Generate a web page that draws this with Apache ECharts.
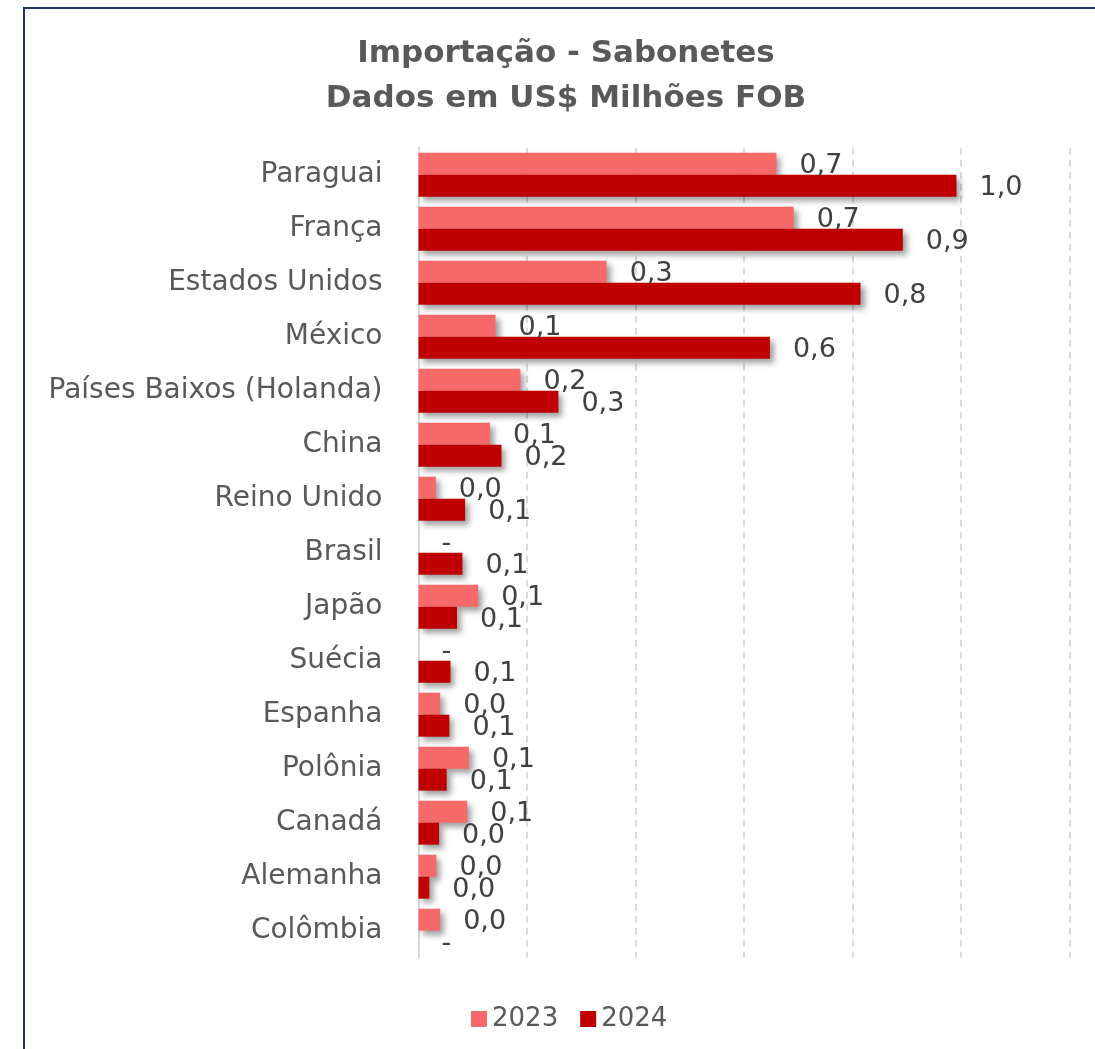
<!DOCTYPE html>
<html>
<head>
<meta charset="utf-8">
<script src="https://cdn.jsdelivr.net/npm/echarts@6/dist/echarts.min.js"></script>
<style>
	html, body { margin: 0; padding: 0; background: #fff; }
	#frame {
		position: absolute; left: 23px; top: 7px; width: 1072px; height: 1042px;
		border-top: 2px solid #22386a; border-left: 2px solid #22386a;
	}
	#chart { position: absolute; left: 0; top: 0; width: 1095px; height: 1049px; }
</style>
</head>
<body>
<div id="frame"></div>
<div id="chart"></div>
<script type="text/javascript">
// paises (de cima para baixo)
var paises = ['Paraguai', 'França', 'Estados Unidos', 'México', 'Países Baixos (Holanda)', 'China',
	'Reino Unido', 'Brasil', 'Japão', 'Suécia', 'Espanha', 'Polônia', 'Canadá', 'Alemanha', 'Colômbia'];
// US$ milhões FOB
var valores2023 = [0.660, 0.692, 0.347, 0.142, 0.188, 0.132, 0.032, 0, 0.110, 0, 0.040, 0.093, 0.090, 0.033, 0.040];
var valores2024 = [0.992, 0.893, 0.815, 0.648, 0.258, 0.153, 0.086, 0.081, 0.071, 0.059, 0.057, 0.052, 0.038, 0.020, 0];
var anos = ['2023', '2024'];
var eixoMin = 0, eixoMax = 1.2, eixoPasso = 0.2;

var fonte = 'DejaVu Sans';

//formato do rotulo: 0,7 ; zero vira "-"
function rotulo(p) {
	if (p.value === 0) return '-';
	return p.value.toFixed(1).replace('.', ',');
}

function serie(nome, dados, cor) {
	return {
		name: nome,
		type: 'bar',
		data: dados,
		barWidth: 22,
		barGap: '0%',
		itemStyle: {
			color: cor,
			shadowColor: 'rgba(0,0,0,0.38)',
			shadowBlur: 6,
			shadowOffsetX: 4,
			shadowOffsetY: 4
		},
		label: {
			show: true,
			position: 'right',
			distance: 23,
			formatter: rotulo,
			color: '#404040',
			fontFamily: fonte,
			fontSize: 27,
			offset: [0, 2]
		}
	};
}

var myChart = echarts.init(document.getElementById('chart'));
var options = {
	animation: false,
	title: {
		text: 'Importação - Sabonetes\nDados em US$ Milhões FOB',
		left: 561,
		top: 26,
		textAlign: 'center',
		textStyle: {
			fontFamily: fonte,
			fontWeight: 'bold',
			fontSize: 31,
			lineHeight: 45,
			color: '#595959'
		}
	},
	legend: {
		data: anos,
		left: 466,
		top: 1001,
		itemWidth: 16,
		itemHeight: 16,
		itemGap: 22,
		icon: 'rect',
		textStyle: { fontFamily: fonte, fontSize: 26, color: '#595959' }
	},
	grid: { left: 418.5, top: 147.7, right: 25.7, bottom: 91.3, containLabel: false },
	xAxis: {
		type: 'value',
		min: eixoMin,
		max: eixoMax,
		interval: eixoPasso,
		axisLabel: { show: false },
		axisLine: { show: false },
		axisTick: { show: false },
		splitLine: { show: true, lineStyle: { color: '#d0d0d0', width: 1.5, type: [7, 5] } }
	},
	yAxis: {
		type: 'category',
		data: paises,
		inverse: true,
		axisTick: { show: false },
		axisLine: { show: true, lineStyle: { color: '#d9d9d9', width: 2 } },
		axisLabel: { margin: 36, color: '#595959', fontFamily: fonte, fontSize: 28, padding: [2, 0, 0, 0] }
	},
	series: [
		serie(anos[0], valores2023, '#f86a6a'),
		serie(anos[1], valores2024, '#c00000')
	]
};
myChart.setOption(options);
</script>
</body>
</html>
